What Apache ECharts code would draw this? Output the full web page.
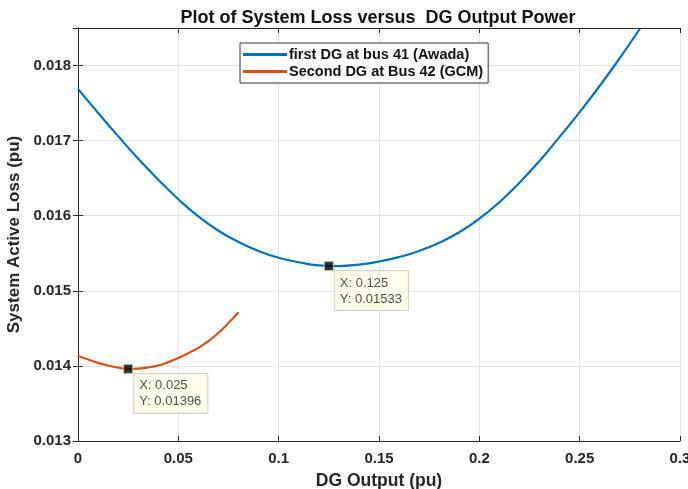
<!DOCTYPE html>
<html>
<head>
<meta charset="utf-8">
<script src="https://cdn.jsdelivr.net/npm/echarts@6/dist/echarts.min.js"></script>
<style>
  html, body { margin: 0; padding: 0; background: #fff; }
  #chart { width: 688px; height: 489px; }
</style>
</head>
<body>
<div id="chart"></div>
<script>
// values
const xFirst = [0, 0.01, 0.02, 0.03, 0.04, 0.05, 0.06, 0.07, 0.08, 0.09, 0.10, 0.11, 0.12, 0.13,
                0.14, 0.15, 0.16, 0.17, 0.18, 0.19, 0.20, 0.21, 0.22, 0.23, 0.24, 0.25, 0.26, 0.27, 0.28];
const yFirst = [0.01769, 0.01737, 0.01706, 0.01676, 0.01648, 0.01622, 0.01599, 0.01580, 0.01565, 0.01553,
                0.01544, 0.01538, 0.01534, 0.01533, 0.01535, 0.01539, 0.01545, 0.01553, 0.01564, 0.01578,
                0.01596, 0.01618, 0.01644, 0.01673, 0.01705, 0.01738, 0.01773, 0.01810, 0.01849];

const xSecond = [0, 0.005, 0.01, 0.015, 0.02, 0.025, 0.03, 0.035, 0.04, 0.045,
                 0.05, 0.055, 0.06, 0.065, 0.07, 0.075, 0.08];
const ySecond = [0.014135, 0.014085, 0.014040, 0.014005, 0.013978, 0.013960, 0.013965, 0.013980, 0.014005, 0.014050,
                 0.014105, 0.014170, 0.014240, 0.014330, 0.014440, 0.014570, 0.014715];

const seriesNames = ['first DG at bus 41 (Awada)', 'Second DG at Bus 42 (GCM)'];
const tips = [[0.125, 0.01533], [0.025, 0.01396]];
const xTicks = ['0', '0.05', '0.1', '0.15', '0.2', '0.25', '0.3'];

const font = 'Liberation Sans, Arial, sans-serif';
const axisColor = '#262626';

const pairs = (xs, ys) => xs.map((x, i) => [x, ys[i]]);

const chart = echarts.init(document.getElementById('chart'));

const mainAxisBits = {
    axisLine: { show: true, lineStyle: { color: axisColor, width: 1 } },
    axisTick: { show: true, inside: true, length: 5, lineStyle: { color: axisColor } },
    splitLine: { show: true, lineStyle: { color: '#e3e3e3', width: 1 } }
};
const mirrorBits = {
    axisLine: { show: true, lineStyle: { color: axisColor, width: 1 } },
    axisTick: { show: true, inside: true, length: 5, lineStyle: { color: axisColor } },
    axisLabel: { show: false },
    splitLine: { show: false }
};

const options = {
    animation: false,
    title: {
        text: 'Plot of System Loss versus  DG Output Power',
        left: 373,
        top: 4,
        textAlign: 'center',
        textStyle: { fontFamily: font, fontWeight: 'bold', fontSize: 18, color: '#111' }
    },
    legend: {
        data: seriesNames,
        orient: 'vertical',
        left: 240,
        top: 43,
        padding: [4, 5, 4, 3],
        itemGap: 2,
        itemWidth: 44,
        itemHeight: 3,
        icon: 'rect',
        backgroundColor: '#fff',
        borderColor: '#333',
        borderWidth: 1,
        textStyle: { fontFamily: font, fontWeight: 'bold', fontSize: 14.5, color: '#111', padding: [0, 0, 0, -3] }
    },
    grid: { left: 78, right: 8, top: 28, bottom: 48, containLabel: false, outerBoundsMode: 'none' },
    xAxis: [
        Object.assign({
            type: 'value',
            min: 0,
            max: 0.3,
            interval: 0.05,
            name: 'DG Output (pu)',
            nameLocation: 'middle',
            nameGap: 31,
            nameTextStyle: { fontFamily: font, fontWeight: 'bold', fontSize: 17.5, color: axisColor },
            axisLabel: {
                fontFamily: font, fontWeight: 'bold', fontSize: 15, color: axisColor, margin: 10,
                formatter: (v) => xTicks[Math.round(v / 0.05)]
            }
        }, mainAxisBits),
        Object.assign({ type: 'value', min: 0, max: 0.3, interval: 0.05, position: 'top' }, mirrorBits)
    ],
    yAxis: [
        Object.assign({
            type: 'value',
            min: 0.013,
            max: 0.0185,
            interval: 0.001,
            name: 'System Active Loss (pu)',
            nameLocation: 'middle',
            nameGap: 51,
            nameTextStyle: { fontFamily: font, fontWeight: 'bold', fontSize: 17, color: axisColor },
            axisLabel: {
                fontFamily: font, fontWeight: 'bold', fontSize: 15, color: axisColor, margin: 7,
                showMaxLabel: false,
                formatter: (v) => v.toFixed(3)
            }
        }, mainAxisBits),
        Object.assign({ type: 'value', min: 0.013, max: 0.0185, interval: 0.001, position: 'right' }, mirrorBits)
    ],
    series: [
        {
            name: seriesNames[0],
            type: 'line',
            smooth: true,
            showSymbol: false,
            symbol: 'none',
            lineStyle: { color: '#0072BD', width: 2.2 },
            itemStyle: { color: '#0072BD' },
            data: pairs(xFirst, yFirst)
        },
        {
            name: seriesNames[1],
            type: 'line',
            smooth: true,
            showSymbol: false,
            symbol: 'none',
            lineStyle: { color: '#D95319', width: 2.2 },
            itemStyle: { color: '#D95319' },
            data: pairs(xSecond, ySecond)
        },
        {
            name: 'tips',
            type: 'scatter',
            symbol: 'rect',
            symbolSize: 9,
            z: 5,
            itemStyle: { color: '#000', borderColor: '#cfc8a0', borderWidth: 1 },
            label: {
                show: true,
                position: [11, 10],
                align: 'left',
                verticalAlign: 'top',
                fontFamily: font,
                fontSize: 13,
                lineHeight: 16,
                color: '#1a1a1a',
                backgroundColor: '#ffffe6',
                borderColor: '#c9c9b8',
                borderWidth: 1,
                padding: [4, 6, 3, 5],
                formatter: (p) => 'X: ' + p.value[0] + '\nY: ' + p.value[1]
            },
            data: tips
        }
    ]
};

chart.setOption(options);
</script>
</body>
</html>
